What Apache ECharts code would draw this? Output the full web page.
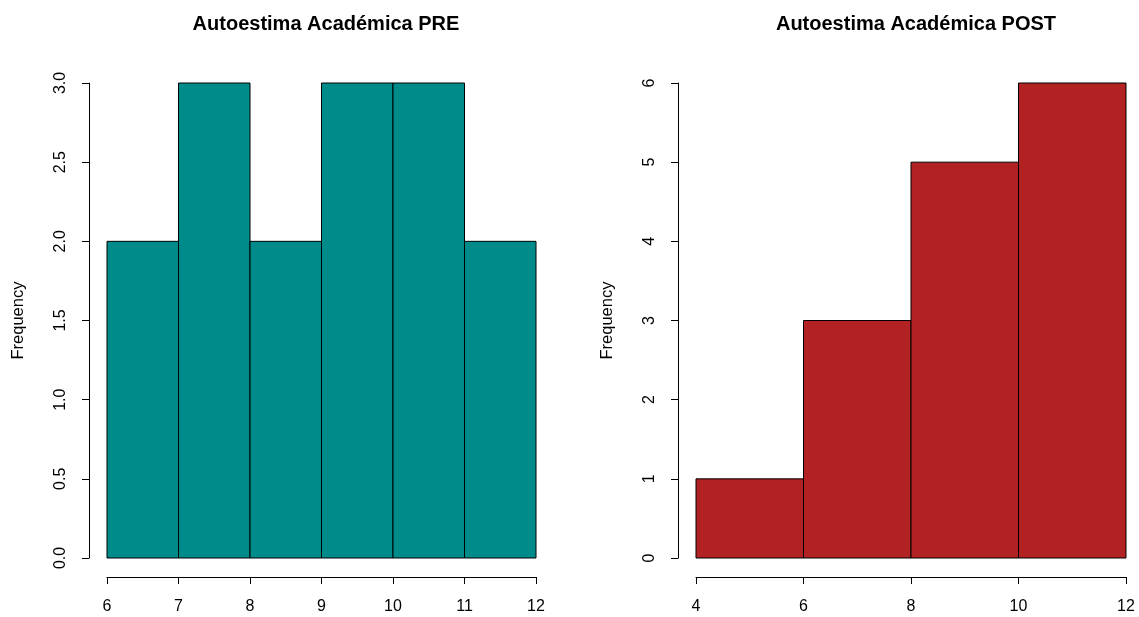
<!DOCTYPE html>
<html>
<head>
<meta charset="utf-8">
<script src="https://cdn.jsdelivr.net/npm/echarts@6/dist/echarts.min.js"></script>
<style>
html,body{margin:0;padding:0;background:#fff;}
#chart{width:1139px;height:617px;}
</style>
</head>
<body>
<div id="chart"></div>
<script>
// histograma PRE: cortes de 1 en 1
var preBreaks = [6, 7, 8, 9, 10, 11, 12];
var preCounts = [2, 3, 2, 3, 3, 2];
// histograma POST: cortes de 2 en 2
var postBreaks = [4, 6, 8, 10, 12];
var postCounts = [1, 3, 5, 6];
var titles = ["Autoestima Académica PRE", "Autoestima Académica POST"];

function toBins(breaks, counts){
    var out = [];
    for (var i = 0; i < counts.length; i++) {
        out.push([breaks[i], breaks[i + 1], counts[i]]);
    }
    return out;
}

function renderBin(color){
    return function(params, api){
        var p0 = api.coord([api.value(0), api.value(2)]);
        var p1 = api.coord([api.value(1), 0]);
        return {
            type: 'rect',
            shape: {x: p0[0], y: p0[1], width: p1[0] - p0[0], height: p1[1] - p0[1]},
            style: {fill: color, stroke: '#000', lineWidth: 1}
        };
    };
}

var font = 'Liberation Sans, Arial, sans-serif';
var axisLine = {show: true, onZero: false, lineStyle: {color: '#000', width: 1}};
var axisTick = {show: true, length: 7, lineStyle: {color: '#000'}};

function xAx(idx, min, max, interval){
    return {
        type: 'value', gridIndex: idx, min: min, max: max, interval: interval,
        offset: 19, splitLine: {show: false},
        axisLine: axisLine, axisTick: axisTick,
        axisLabel: {color: '#000', fontSize: 16, fontFamily: font, margin: 22}
    };
}
function yAx(idx, max, interval, fmt){
    return {
        type: 'value', gridIndex: idx, min: 0, max: max, interval: interval,
        offset: 18, splitLine: {show: false},
        axisLine: axisLine, axisTick: axisTick,
        name: 'Frequency', nameLocation: 'middle', nameGap: 62,
        nameTextStyle: {color: '#000', fontSize: 16.5, fontFamily: font},
        axisLabel: {color: '#000', fontSize: 16, fontFamily: font, rotate: 90, margin: 20,
            formatter: fmt}
    };
}

var chart = echarts.init(document.getElementById('chart'));
chart.setOption({
    backgroundColor: '#fff',
    animation: false,
    title: [
        {text: titles[0], left: 321, top: 9, textAlign: 'center',
            textStyle: {fontSize: 20, fontWeight: 'bold', color: '#000', fontFamily: font}},
        {text: titles[1], left: 911, top: 9, textAlign: 'center',
            textStyle: {fontSize: 20, fontWeight: 'bold', color: '#000', fontFamily: font}}
    ],
    grid: [
        {left: 107, right: 603, top: 83, bottom: 59},
        {left: 696, right: 13, top: 83, bottom: 59}
    ],
    xAxis: [xAx(0, 6, 12, 1), xAx(1, 4, 12, 2)],
    yAxis: [
        yAx(0, 3, 0.5, function(v){ return v.toFixed(1); }),
        yAx(1, 6, 1, function(v){ return String(v); })
    ],
    series: [
        {type: 'custom', xAxisIndex: 0, yAxisIndex: 0, renderItem: renderBin('#008B8B'),
            encode: {x: [0, 1], y: 2}, data: toBins(preBreaks, preCounts)},
        {type: 'custom', xAxisIndex: 1, yAxisIndex: 1, renderItem: renderBin('#B22222'),
            encode: {x: [0, 1], y: 2}, data: toBins(postBreaks, postCounts)}
    ]
});
</script>
</body>
</html>
